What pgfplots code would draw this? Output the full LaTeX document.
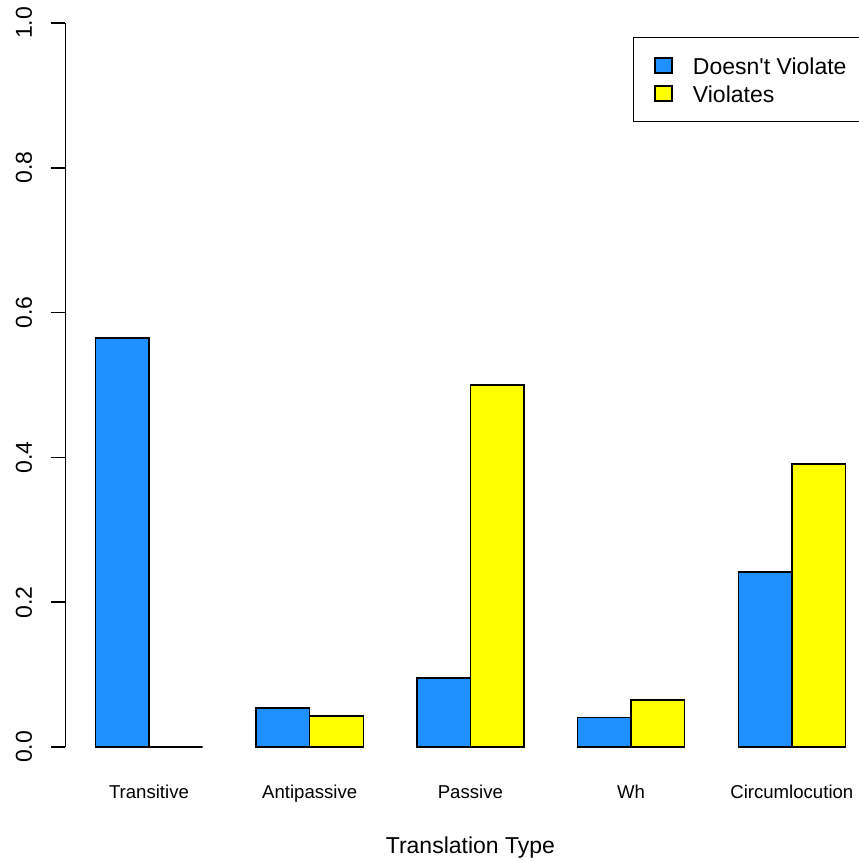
\documentclass[border=0pt]{standalone}
\usepackage{pgfplots}
\pgfplotsset{compat=1.18}
\usepackage{fontspec}
\setmainfont{Liberation Sans}
\definecolor{dblue}{HTML}{1E90FF}
\definecolor{yel}{HTML}{FFFF00}
\begin{document}
\begin{tikzpicture}
\begin{axis}[
 name=a,
 scale only axis, width=396.7pt, height=362pt,
 xmin=0.44, xmax=15.25, ymin=0, ymax=1,
 clip=false,
 axis lines=left,
 axis line style={-, line width=0.75pt},
 x axis line style={draw=none},
 tick align=outside,
 major tick length=7pt,
 ytick={0,0.2,0.4,0.6,0.8,1},
 ytick style={line width=0.75pt, black},
 yticklabel shift=9.75pt,
 yticklabel style={rotate=90, anchor=base, inner sep=0pt,
   font=\fontsize{11.5pt}{13.8pt}\selectfont,
   /pgf/number format/.cd, fixed, fixed zerofill, precision=1, assume math mode=true},
 xtick={2,5,8,11,14},
 xticklabels={Transitive,Antipassive,Passive,Wh,Circumlocution},
 xtick style={draw=none},
 xticklabel shift=18.5pt,
 xticklabel style={anchor=base, inner sep=0pt, font=\fontsize{9.3pt}{11pt}\selectfont},
 xlabel={Translation Type},
 xlabel style={at={(axis description cs:0.5105,0)}, anchor=base, yshift=-53pt, inner sep=0pt,
   font=\fontsize{11.5pt}{13.8pt}\selectfont},
 legend style={at={(0.7154,0.9807)}, anchor=north west, draw=black, line width=0.75pt,
   font=\fontsize{11.5pt}{13.8pt}\selectfont,
   inner xsep=10.35pt, inner ysep=9.5pt, column sep=10pt, row sep=4.85pt,
   nodes={inner sep=0pt, text height=9pt, text depth=0pt}},
 legend cell align=left,
]
\addplot[ybar, bar width=1, bar shift=0pt, fill=dblue, draw=black, line width=0.75pt,
  legend image code/.code={\draw[fill=dblue, draw=black, line width=0.75pt] (0pt,-3.75pt) rectangle (8.5pt,3.75pt);}]
  coordinates {(1.5,0.565) (4.5,0.054) (7.5,0.095) (10.5,0.041) (13.5,0.242)};
\addlegendentry{Doesn{\textquotesingle}t Violate}
\addplot[ybar, bar width=1, bar shift=0pt, fill=yel, draw=black, line width=0.75pt,
  legend image code/.code={\draw[fill=yel, draw=black, line width=0.75pt] (0pt,-3.75pt) rectangle (8.5pt,3.75pt);}]
  coordinates {(2.5,0) (5.5,0.043) (8.5,0.5) (11.5,0.065) (14.5,0.391)};
\addlegendentry{Violates}
\coordinate (bl) at (rel axis cs:0,0);
\coordinate (tr) at (rel axis cs:1,1);
\end{axis}
\pgfresetboundingbox
\path[use as bounding box] ([xshift=-32.7pt,yshift=-57pt]bl) rectangle ([xshift=0.1pt,yshift=11.5pt]tr);
\end{tikzpicture}
\end{document}
